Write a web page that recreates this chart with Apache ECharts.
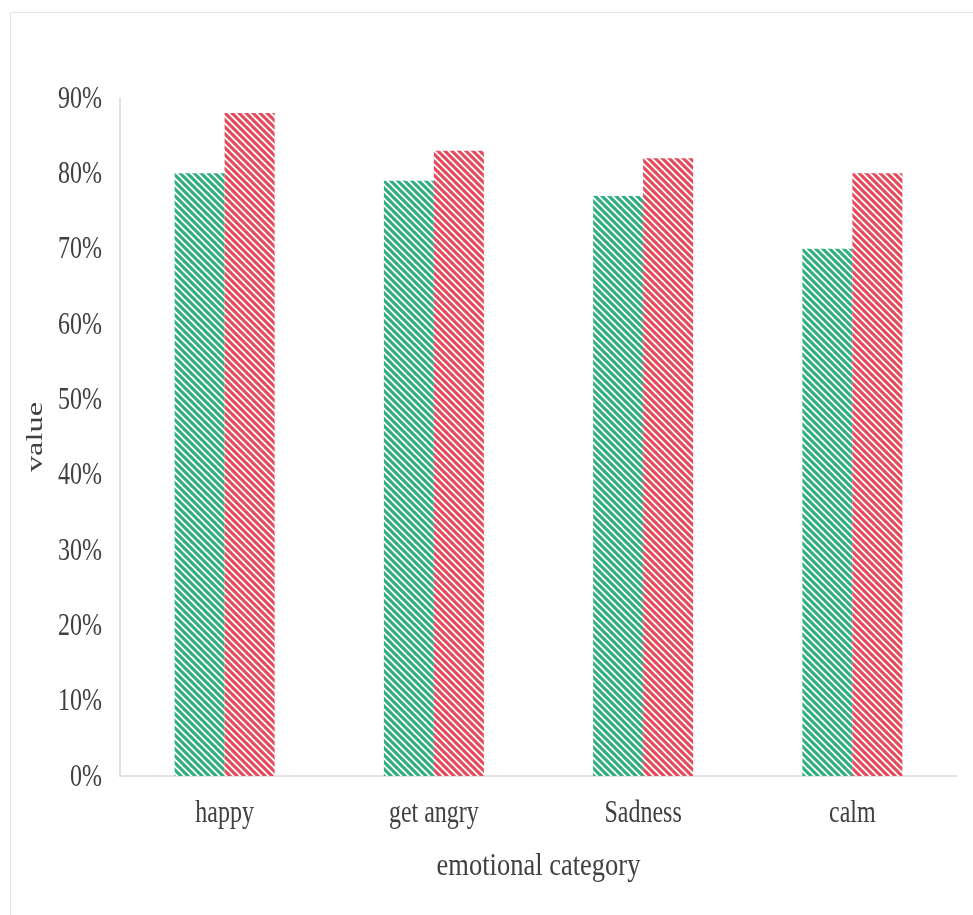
<!DOCTYPE html>
<html>
<head>
<meta charset="utf-8">
<script src="https://cdn.jsdelivr.net/npm/echarts@6/dist/echarts.min.js"></script>
<style>
  html, body { margin: 0; padding: 0; background: #ffffff; }
  #chart { width: 973px; height: 915px; }
</style>
</head>
<body>
<div id="chart"></div>
<script>
// Recognition rate per emotional category, two groups
var categories = ['happy', 'get angry', 'Sadness', 'calm'];
var groupA = [80, 79, 77, 70];
var groupB = [88, 83, 82, 80];
var yTickValues = [0, 10, 20, 30, 40, 50, 60, 70, 80, 90];
var xTitle = 'emotional category';
var yTitle = 'value';

var GREEN = '#2fae80';
var RED = '#e8495a';
var TEXT = '#404040';
var SERIF = '"Liberation Serif", "Times New Roman", serif';
var TALL = 1.35;   // glyphs are drawn taller than their natural proportions

// Diagonal hatch tile ("\" stripes) used as bar fill
function hatch(color) {
  var s = 7;
  var c = document.createElement('canvas');
  c.width = s; c.height = s;
  var g = c.getContext('2d');
  g.fillStyle = '#ffffff';
  g.fillRect(0, 0, s, s);
  g.strokeStyle = color;
  g.lineWidth = 3.1;
  for (var k = -1; k <= 1; k++) {
    g.beginPath();
    g.moveTo(-1, k * s - 1);
    g.lineTo(s + 1, s + k * s + 1);
    g.stroke();
  }
  return { image: c, repeat: 'repeat' };
}

var chart = echarts.init(document.getElementById('chart'), null, { renderer: 'canvas' });
chart.setOption({
  backgroundColor: '#ffffff',
  animation: false,
  grid: { left: 120, right: 16, top: 98, bottom: 139, containLabel: false },
  xAxis: {
    type: 'category',
    data: categories,
    axisLine: { lineStyle: { color: '#d9d9d9', width: 1.5 } },
    axisTick: { show: false },
    axisLabel: { show: false }
  },
  yAxis: {
    type: 'value',
    min: yTickValues[0],
    max: yTickValues[yTickValues.length - 1],
    interval: yTickValues[1] - yTickValues[0],
    axisLine: { show: true, lineStyle: { color: '#d9d9d9', width: 1.5 } },
    axisTick: { show: false },
    splitLine: { show: false },
    axisLabel: { show: false }
  },
  series: [{
    name: 'Group A',
    type: 'bar',
    data: groupA,
    barWidth: 50,
    barGap: '0%',
    itemStyle: { color: hatch(GREEN) }
  }, {
    name: 'Group B',
    type: 'bar',
    data: groupB,
    barWidth: 50,
    barGap: '0%',
    itemStyle: { color: hatch(RED) }
  }]
});

// Labels and titles drawn as tall serif text, placed through the axes' own scales
function tallText(text, x, y, align, opts) {
  opts = opts || {};
  var stretch = opts.stretch || TALL;
  return {
    type: 'text',
    x: x, y: y,
    rotation: opts.rotation || 0,
    scaleX: opts.rotation ? stretch : 1,
    scaleY: opts.rotation ? 1 : stretch,
    silent: true,
    style: {
      text: text,
      fill: TEXT,
      font: (opts.size || 24) + 'px ' + SERIF,
      align: align,
      verticalAlign: 'middle'
    }
  };
}

var graphics = [{
  type: 'rect',
  shape: { x: 10.5, y: 12.5, width: 1000, height: 1000 },
  style: { fill: 'none', stroke: '#e3e3e3', lineWidth: 1 },
  silent: true
}];

var axisY0 = chart.convertToPixel({ yAxisIndex: 0 }, 0);
yTickValues.forEach(function (v) {
  var py = chart.convertToPixel({ yAxisIndex: 0 }, v);
  graphics.push(tallText(v + '%', 102, py + 1, 'right'));
});
categories.forEach(function (c) {
  var px = chart.convertToPixel({ xAxisIndex: 0 }, c);
  graphics.push(tallText(c, px, axisY0 + 37, 'center'));
});
var xLeft = chart.convertToPixel({ xAxisIndex: 0 }, categories[0]);
var xRight = chart.convertToPixel({ xAxisIndex: 0 }, categories[categories.length - 1]);
graphics.push(tallText(xTitle, (xLeft + xRight) / 2, axisY0 + 91, 'center', { size: 26.5, stretch: 1.22 }));
var yTop = chart.convertToPixel({ yAxisIndex: 0 }, yTickValues[yTickValues.length - 1]);
graphics.push(tallText(yTitle, 36, (yTop + axisY0) / 2, 'center', { rotation: Math.PI / 2 }));

chart.setOption({ graphic: graphics });
</script>
</body>
</html>
